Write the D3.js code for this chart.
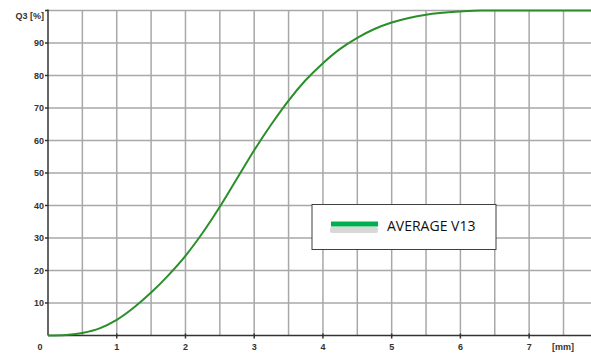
<!DOCTYPE html>
<html>
<head>
<style>
  body { margin: 0; background: #fff; }
  svg { display: block; }
  .tick-label { font-family: "Liberation Sans", Arial, sans-serif; font-size: 9px; font-weight: bold; fill: #333; }
  .legend-text { font-family: "Open Sans", "Liberation Sans", sans-serif; font-size: 14px; fill: #111; }
</style>
<script src="https://d3js.org/d3.v7.min.js"></script>
</head>
<body>
<svg id="chart" width="591" height="353"></svg>
<script>
// particle size (mm) vs cumulative Q3 (%)
const sizes = [0.1, 0.3, 0.5, 0.75, 1, 1.25, 1.5, 1.75, 2, 2.25, 2.5, 2.75, 3, 3.25, 3.5, 3.75, 4, 4.25, 4.5, 4.75, 5, 5.25, 5.5, 6, 6.3, 7, 7.9];
const q3 = [0, 0.2, 0.8, 2.2, 4.8, 8.6, 13.2, 18.5, 24.5, 31.6, 39.6, 48.3, 57, 65, 72.3, 78.6, 83.8, 88.2, 91.6, 94.3, 96.3, 97.7, 98.7, 99.7, 100, 100, 100];
const xTicks = [0, 1, 2, 3, 4, 5, 6, 7];
const yTicks = [10, 20, 30, 40, 50, 60, 70, 80, 90];
const seriesName = "AVERAGE V13";

const svg = d3.select("#chart");
const x = d3.scaleLinear().domain([0, 7.9]).range([48, 591]);
const y = d3.scaleLinear().domain([0, 100]).range([335.5, 10.5]);

// grid
const grid = svg.append("g").attr("stroke", "#a8a8a8").attr("stroke-width", 1.5);
grid.selectAll("line.v").data(d3.range(0.5, 7.9, 0.5)).enter().append("line")
  .attr("x1", d => x(d)).attr("x2", d => x(d))
  .attr("y1", y(100)).attr("y2", y(0));
grid.selectAll("line.h").data(d3.range(10, 101, 10)).enter().append("line")
  .attr("x1", x(0)).attr("x2", 591)
  .attr("y1", d => y(d)).attr("y2", d => y(d));

// axes
const axes = svg.append("g").attr("stroke", "#333").attr("stroke-width", 1.5);
axes.append("line").attr("x1", x(0)).attr("x2", x(0)).attr("y1", y(100) - 1).attr("y2", y(0));
axes.append("line").attr("x1", x(0)).attr("x2", 591).attr("y1", y(0)).attr("y2", y(0));
axes.selectAll("line.yt").data(yTicks.concat([100])).enter().append("line")
  .attr("x1", x(0) - 3).attr("x2", x(0)).attr("y1", d => y(d)).attr("y2", d => y(d));
axes.selectAll("line.xt").data(xTicks.slice(1)).enter().append("line")
  .attr("x1", d => x(d)).attr("x2", d => x(d)).attr("y1", y(0) - 2).attr("y2", y(0) + 3);

svg.selectAll("text.yl").data(yTicks).enter().append("text")
  .attr("class", "tick-label")
  .attr("x", 44).attr("y", d => y(d) + 3)
  .attr("text-anchor", "end")
  .text(d => d);
svg.append("text").attr("class", "tick-label").attr("x", 44).attr("y", 19)
  .attr("text-anchor", "end").text("Q3 [%]");

svg.selectAll("text.xl").data(xTicks).enter().append("text")
  .attr("class", "tick-label")
  .attr("x", d => d === 0 ? 40 : x(d))
  .attr("y", 350)
  .attr("text-anchor", "middle")
  .text(d => d);
svg.append("text").attr("class", "tick-label").attr("x", 563).attr("y", 350)
  .attr("text-anchor", "middle").text("[mm]");

// curve
const line = d3.line().x((d, i) => x(sizes[i])).y(d => y(d)).curve(d3.curveMonotoneX);
svg.append("path").datum(q3)
  .attr("d", line)
  .attr("fill", "none")
  .attr("stroke", "#2a8f2a")
  .attr("stroke-width", 2);
svg.append("line").attr("x1", x(0)).attr("x2", x(sizes[0]))
  .attr("y1", y(0)).attr("y2", y(0)).attr("stroke", "#2a8f2a").attr("stroke-width", 2);

// legend
const lg = svg.append("g");
lg.append("rect").attr("x", 312).attr("y", 204.5).attr("width", 184).attr("height", 45)
  .attr("fill", "#fff").attr("stroke", "#404040").attr("stroke-width", 1);
lg.append("rect").attr("x", 330).attr("y", 227).attr("width", 48).attr("height", 6)
  .attr("fill", "#d8d8d8").attr("rx", 2);
lg.append("rect").attr("x", 331).attr("y", 221.5).attr("width", 47).attr("height", 5)
  .attr("fill", "#00b050");
lg.append("text").attr("class", "legend-text").attr("x", 387).attr("y", 231)
  .text(seriesName);
</script>
</body>
</html>
